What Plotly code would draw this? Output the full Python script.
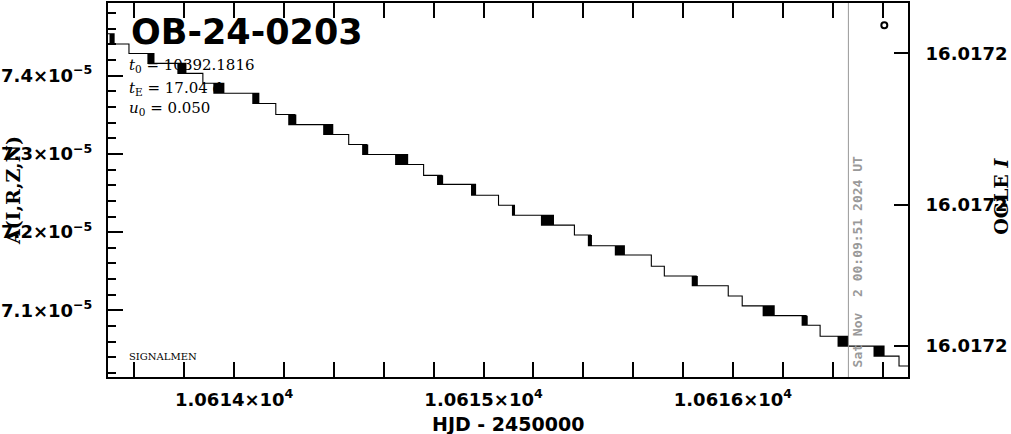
import numpy as np
import plotly.graph_objects as go

# ---- data ----
# quantised model levels (units of 1e-5), in order of time
levels = [7.4534, 7.4403, 7.4283, 7.4156, 7.4029, 7.3902, 7.3775, 7.3644, 7.3504,
          7.3374, 7.3247, 7.3120, 7.2992, 7.2865, 7.2726, 7.2611, 7.2471, 7.2344,
          7.2217, 7.2090, 7.1963, 7.1827, 7.1709, 7.1564, 7.1440, 7.1315, 7.1185,
          7.1058, 7.0934, 7.0811, 7.0671, 7.0544, 7.0417, 7.0290]
# start / end (HJD-2450000) of each level change (flickering between start and end)
trans_start = [10613.5026, 10613.5783, 10613.6544, 10613.7745, 10613.8746, 10613.9187,
               10614.0749, 10614.1670, 10614.2191, 10614.3592, 10614.4594, 10614.5154,
               10614.6476, 10614.7597, 10614.8158, 10614.9520, 10615.0601, 10615.1161,
               10615.2323, 10615.3644, 10615.4205, 10615.5286, 10615.6728, 10615.7249,
               10615.8370, 10615.9812, 10616.0372, 10616.1213, 10616.2776, 10616.3496,
               10616.4217, 10616.5659, 10616.6660]
trans_end = [10613.5222, 10613.5783, 10613.6784, 10613.8066, 10613.8746, 10613.9588,
             10614.0989, 10614.1670, 10614.2471, 10614.3953, 10614.4594, 10614.5354,
             10614.6956, 10614.7597, 10614.8358, 10614.9680, 10615.0601, 10615.1242,
             10615.2803, 10615.3644, 10615.4325, 10615.5647, 10615.6728, 10615.7249,
             10615.8570, 10615.9812, 10616.0372, 10616.1654, 10616.2976, 10616.3496,
             10616.4617, 10616.6099, 10616.6660]
t_first = 10613.48
t_last = 10616.72

# single data point (open circle)
pt_t = [10616.607]
pt_a = [7.4644e-5]

now_hjd = 10616.463
now_text = "Sat Nov \u00a02 00:09:51 2024 UT"

event = "OB-24-0203"
t0_text = "10392.1816"
tE_text = "17.04 d"
u0_text = "0.050"

x_tickvals = [10614, 10615, 10616]
x_ticktext = ["1.0614×10<sup>4</sup>", "1.0615×10<sup>4</sup>", "1.0616×10<sup>4</sup>"]
y_tickvals = [7.1e-5, 7.2e-5, 7.3e-5, 7.4e-5]
y_ticktext = ["7.1×10<sup>−5</sup>", "7.2×10<sup>−5</sup>", "7.3×10<sup>−5</sup>", "7.4×10<sup>−5</sup>"]
r_tickvals = [7.4283e-5, 7.2348e-5, 7.0548e-5]
r_ticktext = ["16.0172", "16.0172", "16.0172"]

x_range = [10613.4942, 10616.7020]
y_range = [7.0150e-5, 7.49276e-5]

# ---- build the step curve ----
xs = [t_first]
ys = [levels[0] * 1e-5]
for k, (a, b) in enumerate(zip(trans_start, trans_end)):
    lo, hi = levels[k + 1] * 1e-5, levels[k] * 1e-5
    if b - a < 1e-6:
        xs.append(a); ys.append(lo)
    else:
        grid = np.arange(a, b, 0.004)
        for i, t in enumerate(grid):
            xs.append(float(t)); ys.append(lo if i % 2 == 0 else hi)
        xs.append(b); ys.append(lo)
xs.append(t_last); ys.append(levels[-1] * 1e-5)

fig = go.Figure()
fig.add_trace(go.Scatter(x=xs, y=ys, mode="lines", line=dict(color="black", width=1.1, shape="hv"),
                         hoverinfo="skip", showlegend=False))
fig.add_trace(go.Scatter(x=pt_t, y=pt_a, mode="markers", yaxis="y2",
                         marker=dict(symbol="circle-open", size=6, color="black", line=dict(width=2, color="black")),
                         showlegend=False))

tickfont = dict(family="DejaVu Sans", size=18, color="black", weight="bold")

fig.update_layout(
    width=1011, height=434,
    margin=dict(l=107, r=103, t=1, b=57),
    paper_bgcolor="white", plot_bgcolor="white",
    showlegend=False,
    xaxis=dict(range=x_range, showgrid=False, zeroline=False, showline=True, linewidth=2, linecolor="black",
               mirror="allticks", ticks="inside", ticklen=15, tickwidth=2, tickcolor="black",
               tickmode="array", tickvals=x_tickvals, ticktext=x_ticktext, tickfont=tickfont,
               ticklabelstandoff=5,
               minor=dict(ticks="inside", ticklen=7, tickwidth=2, tickcolor="black", tickmode="linear",
                          tick0=10614, dtick=0.2, showgrid=False)),
    yaxis=dict(range=y_range, showgrid=False, zeroline=False, showline=True, linewidth=2, linecolor="black",
               ticks="inside", ticklen=15, tickwidth=2, tickcolor="black",
               tickmode="array", tickvals=y_tickvals, ticktext=y_ticktext, tickfont=tickfont,
               ticklabelstandoff=10,
               minor=dict(ticks="inside", ticklen=8, tickwidth=2, tickcolor="black", tickmode="linear",
                          tick0=7.0e-5, dtick=2e-7, showgrid=False)),
    yaxis2=dict(range=y_range, overlaying="y", side="right", showgrid=False, zeroline=False,
                showline=True, linewidth=2, linecolor="black", ticks="inside", ticklen=14, tickwidth=2,
                tickcolor="black", tickmode="array", tickvals=r_tickvals, ticktext=r_ticktext,
                tickfont=tickfont, ticklabelstandoff=12),
)

fig.add_shape(type="line", xref="x", yref="paper", x0=now_hjd, x1=now_hjd, y0=0, y1=1,
              line=dict(color="#999999", width=1))

H = 376.0
def py(p):
    return (377 - p) / H
def px(p):
    return (p - 107) / 801.0

ann = []
ann.append(dict(text=event, xref="paper", yref="paper", x=px(128), y=py(30), xanchor="left", yanchor="middle",
                showarrow=False, font=dict(family="DejaVu Sans", size=35, color="black", weight="bold")))
pfont = dict(family="DejaVu Serif", size=15, color="black")
ann.append(dict(text="<i>t</i><sub>0</sub> = " + t0_text, xref="paper", yref="paper", x=px(126), y=py(64),
                xanchor="left", yanchor="middle", showarrow=False, font=pfont))
ann.append(dict(text="<i>t</i><sub>E</sub> = " + tE_text, xref="paper", yref="paper", x=px(126), y=py(87),
                xanchor="left", yanchor="middle", showarrow=False, font=pfont))
ann.append(dict(text="<i>u</i><sub>0</sub> = " + u0_text, xref="paper", yref="paper", x=px(126), y=py(107),
                xanchor="left", yanchor="middle", showarrow=False, font=pfont))
ann.append(dict(text="SIGNALMEN", xref="paper", yref="paper", x=px(126), y=py(356), xanchor="left",
                yanchor="middle", showarrow=False, font=dict(family="DejaVu Serif", size=10, color="black")))
ann.append(dict(text="HJD - 2450000", xref="paper", yref="paper", x=0.5, y=py(424), xanchor="center",
                yanchor="middle", showarrow=False,
                font=dict(family="DejaVu Sans", size=19, color="black", weight="bold")))
ann.append(dict(text="A(I,R,Z,N)", xref="paper", yref="paper", x=px(12), y=py(190), xanchor="center",
                yanchor="middle", textangle=-90, showarrow=False,
                font=dict(family="DejaVu Serif", size=19, color="black", weight="bold")))
ann.append(dict(text="OGLE <i>I</i>", xref="paper", yref="paper", x=px(1001), y=py(195), xanchor="center",
                yanchor="middle", textangle=-90, showarrow=False,
                font=dict(family="DejaVu Serif", size=19, color="black", weight="bold")))
ann.append(dict(text=now_text, xref="x", yref="paper", x=now_hjd, y=py(369), xanchor="left",
                yanchor="bottom", textangle=-90, showarrow=False,
                font=dict(family="DejaVu Sans Mono", size=13, color="#999999", weight="bold")))
fig.update_layout(annotations=ann)

fig.write_html("out.html", config={"displayModeBar": False},
               post_script="document.body.style.margin='0px';document.body.style.overflow='hidden';")
